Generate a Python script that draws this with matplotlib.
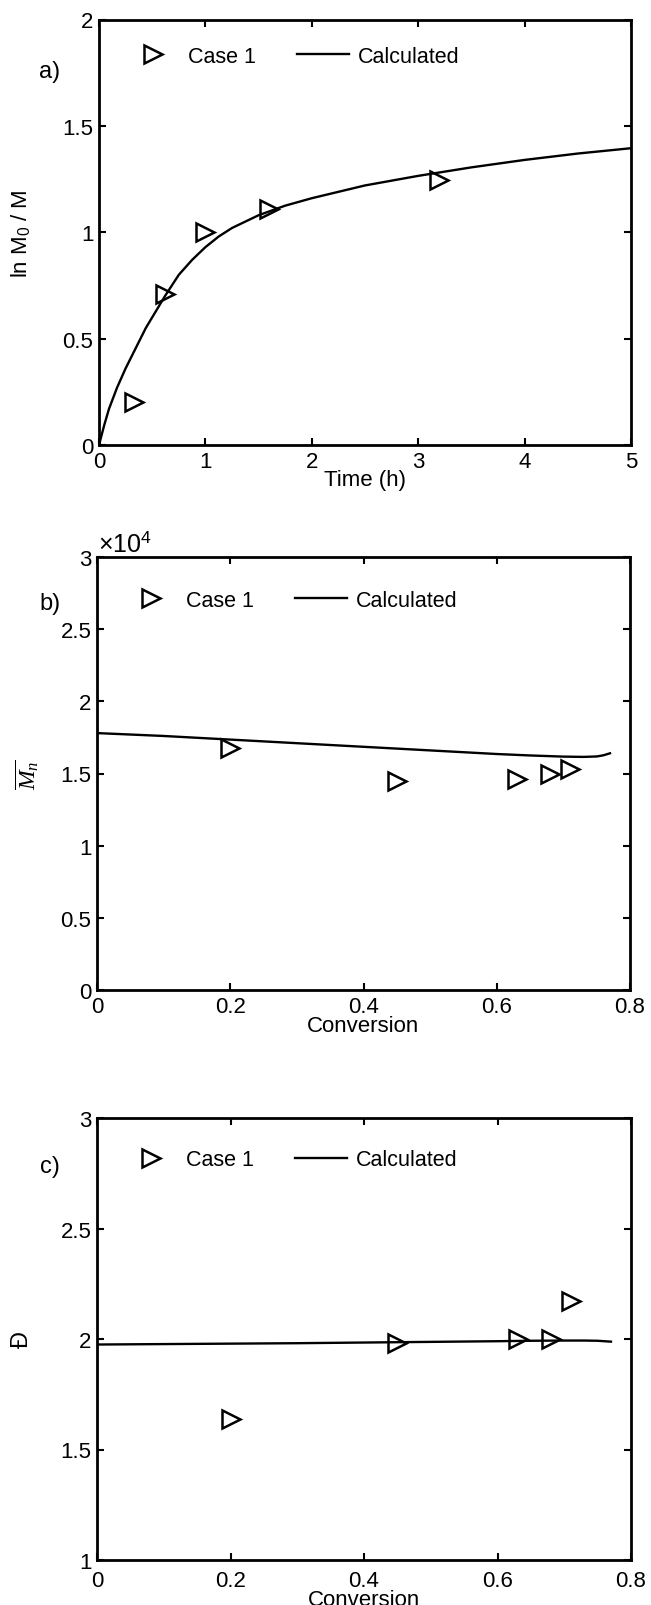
import matplotlib
matplotlib.use("Agg")
import matplotlib.pyplot as plt
import numpy as np

plt.rcParams['font.family'] = ['Liberation Sans', 'DejaVu Sans']
plt.rcParams['mathtext.fontset'] = 'custom'
plt.rcParams['mathtext.it'] = 'Liberation Serif:italic'
plt.rcParams['mathtext.rm'] = 'Liberation Sans'

# ---- Panel a data ----
time_exp = [0.33, 0.62, 1.0, 1.6, 3.2]
lnM_exp = [0.20, 0.71, 1.00, 1.11, 1.245]
time_calc = [0, 0.05, 0.094, 0.17, 0.25, 0.33, 0.44, 0.62, 0.75, 0.875, 1.0, 1.125, 1.25,
             1.5, 1.75, 2.0, 2.5, 3.0, 3.5, 4.0, 4.5, 5.0]
lnM_calc = [0, 0.095, 0.17, 0.27, 0.36, 0.44, 0.55, 0.70, 0.80, 0.87, 0.93, 0.98, 1.02,
            1.08, 1.125, 1.16, 1.22, 1.265, 1.305, 1.34, 1.37, 1.395]

# ---- Panel b data ----
conv_exp = [0.20, 0.45, 0.63, 0.68, 0.71]
Mn_exp = [16800, 14500, 14600, 15000, 15300]
conv_calc = [0, 0.1, 0.2, 0.3, 0.4, 0.5, 0.6, 0.65, 0.7, 0.73, 0.75, 0.76, 0.77]
Mn_calc = [17800, 17600, 17350, 17100, 16850, 16600, 16350, 16250, 16170, 16150, 16180, 16260, 16400]

# ---- Panel c data ----
D_exp = [1.64, 1.98, 2.00, 2.00, 2.17]
D_calc = [1.975, 1.977, 1.979, 1.981, 1.984, 1.987, 1.990, 1.992, 1.993, 1.993, 1.992, 1.990, 1.988]

W, H = 651, 1606
fig = plt.figure(figsize=(W / 100, H / 100), dpi=100)

def ax_rect(l, r, t, b):
    return [l / W, 1 - b / H, (r - l) / W, (b - t) / H]

axa = fig.add_axes(ax_rect(99, 631, 20.5, 446))
axb = fig.add_axes(ax_rect(97, 630, 558, 991))
axc = fig.add_axes(ax_rect(97, 631, 1119, 1561))

fs = 16
mkw = dict(marker='>', ms=13, mfc='white', mec='black', mew=1.8, ls='none')
lkw = dict(color='black', lw=1.7)

def style(ax, pad=4):
    for s in ax.spines.values():
        s.set_linewidth(2.0)
    ax.tick_params(direction='in', length=5, width=1.5, top=True, right=True,
                   labelsize=fs, pad=4)
    ax.tick_params(axis='x', pad=pad)

def legend(ax, yoff):
    ax.legend(loc='center left', bbox_to_anchor=(0.053, 1 - yoff), ncol=2, frameon=False,
              fontsize=15.5, handlelength=2.42, columnspacing=1.9, handletextpad=0.42,
              borderaxespad=0, borderpad=0)

# Panel a
axa.plot(time_exp, lnM_exp, label='Case 1', **mkw)
axa.plot(time_calc, lnM_calc, label='Calculated', **lkw)
axa.set_xlim(0, 5)
axa.set_ylim(0, 2)
axa.set_xticks([0, 1, 2, 3, 4, 5])
axa.set_yticks([0, 0.5, 1, 1.5, 2])
axa.set_yticklabels(['0', '0.5', '1', '1.5', '2'])
axa.set_xlabel('Time (h)', fontsize=fs, labelpad=-2)
axa.set_ylabel('ln M$_0$ / M', fontsize=fs, labelpad=22)
style(axa)
legend(axa, 0.087)
fig.text(50 / W, 1 - 72 / H, 'a)', fontsize=fs + 1, ha='center', va='center')

# Panel b
axb.plot(conv_exp, np.array(Mn_exp) / 1e4, label='Case 1', **mkw)
axb.plot(conv_calc, np.array(Mn_calc) / 1e4, label='Calculated', **lkw)
axb.set_xlim(0, 0.8)
axb.set_ylim(0, 3)
axb.set_xticks([0, 0.2, 0.4, 0.6, 0.8])
axb.set_xticklabels(['0', '0.2', '0.4', '0.6', '0.8'])
axb.set_yticks([0, 0.5, 1, 1.5, 2, 2.5, 3])
axb.set_yticklabels(['0', '0.5', '1', '1.5', '2', '2.5', '3'])
axb.set_xlabel('Conversion', fontsize=fs, labelpad=-1)
axb.set_ylabel(r'$\overline{M_n}$', fontsize=fs + 1, labelpad=14)
style(axb)
legend(axb, 0.10)
fig.text(98 / W, 1 - 545 / H, r'$\times$10$^{4}$', fontsize=fs + 2, ha='left', va='center')
fig.text(50 / W, 1 - 604 / H, 'b)', fontsize=fs + 1, ha='center', va='center')

# Panel c
axc.plot(conv_exp, D_exp, label='Case 1', **mkw)
axc.plot(conv_calc, D_calc, label='Calculated', **lkw)
axc.set_xlim(0, 0.8)
axc.set_ylim(1, 3)
axc.set_xticks([0, 0.2, 0.4, 0.6, 0.8])
axc.set_xticklabels(['0', '0.2', '0.4', '0.6', '0.8'])
axc.set_yticks([1, 1.5, 2, 2.5, 3])
axc.set_yticklabels(['1', '1.5', '2', '2.5', '3'])
axc.set_xlabel('Conversion', fontsize=fs, labelpad=-1)
axc.set_ylabel('Đ', fontsize=fs + 1, labelpad=20)
style(axc, pad=7)
legend(axc, 0.095)
fig.text(50 / W, 1 - 1167 / H, 'c)', fontsize=fs + 1, ha='center', va='center')

fig.savefig('out.png', dpi=100)
